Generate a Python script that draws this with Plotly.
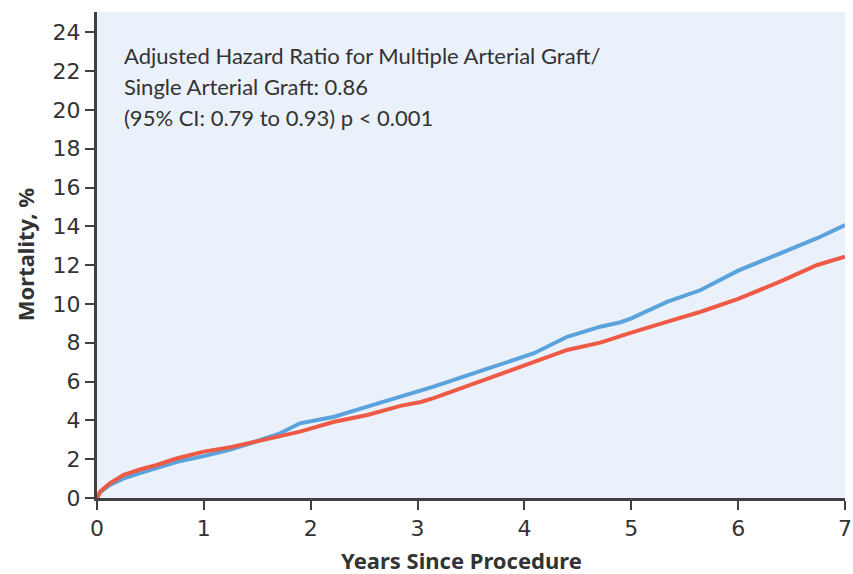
import plotly.graph_objects as go

# Cumulative mortality (%) by years since procedure
years_single = [0, 0.03, 0.12, 0.25, 0.41, 0.56, 0.75, 1.0, 1.25, 1.48, 1.7, 1.9,
                2.22, 2.53, 2.84, 3.03, 3.15, 3.62, 4.09, 4.40, 4.71, 4.90, 5.0,
                5.34, 5.65, 6.0, 6.43, 6.74, 7.0]
mort_single = [0, 0.30, 0.67, 1.01, 1.30, 1.53, 1.87, 2.16, 2.50, 2.90, 3.30, 3.85,
               4.19, 4.71, 5.20, 5.50, 5.74, 6.60, 7.46, 8.31, 8.83, 9.06, 9.26,
               10.12, 10.72, 11.72, 12.70, 13.39, 14.07]

years_multi = years_single
mort_multi = [0, 0.33, 0.76, 1.19, 1.48, 1.70, 2.05, 2.39, 2.62, 2.90, 3.15, 3.42,
              3.93, 4.28, 4.75, 4.95, 5.15, 6.08, 6.98, 7.63, 8.01, 8.37, 8.52,
              9.09, 9.60, 10.26, 11.24, 12.01, 12.44]

x_ticks = [0, 1, 2, 3, 4, 5, 6, 7]
y_ticks = list(range(0, 25, 2))

note_lines = ["Adjusted Hazard Ratio for Multiple Arterial Graft/",
              "Single Arterial Graft: 0.86",
              "(95% CI: 0.79 to 0.93) p < 0.001"]

BLUE = "#5AA3DC"
RED = "#EF5A47"
AXIS = "#404040"
TEXT = "#333333"
TICK_FONT = "DejaVu Sans"
TITLE_FONT = "Noto Sans"
NOTE_FONT = "Lato"

fig = go.Figure()
fig.add_trace(go.Scatter(x=years_single, y=mort_single, mode="lines",
                         line=dict(color=BLUE, width=4), name="Single Arterial Graft"))
fig.add_trace(go.Scatter(x=years_multi, y=mort_multi, mode="lines",
                         line=dict(color=RED, width=4), name="Multiple Arterial Graft"))

axis_common = dict(showline=True, linecolor=AXIS, linewidth=3, ticks="outside",
                   ticklen=9, tickwidth=2, tickcolor=AXIS, showgrid=False,
                   zeroline=False, automargin=False,
                   tickfont=dict(family=TICK_FONT, size=22, color=TEXT))

fig.update_xaxes(range=[0, 7], tickvals=x_ticks, **axis_common)
fig.update_yaxes(range=[0, 25.05], tickvals=y_ticks, **axis_common)

# Hazard-ratio note, one annotation per line for even spacing
for i, line in enumerate(note_lines):
    fig.add_annotation(xref="paper", yref="paper", x=0.0348, y=0.911 - i * 0.0638,
                       xanchor="left", yanchor="middle", align="left",
                       showarrow=False, borderpad=0, text=line,
                       font=dict(family=NOTE_FONT, size=22, color=TEXT))

fig.add_annotation(xref="paper", yref="paper", x=(461 - 97) / 748, y=-0.127,
                   xanchor="center", yanchor="middle", showarrow=False, borderpad=0,
                   text="<b>Years Since Procedure</b>",
                   font=dict(family=TITLE_FONT, size=22, color=TEXT))
fig.add_annotation(xref="paper", yref="paper", x=-0.096, y=0.5, textangle=-90,
                   xanchor="center", yanchor="middle", showarrow=False, borderpad=0,
                   text="<b>Mortality, %</b>",
                   font=dict(family=TITLE_FONT, size=22, color=TEXT))

fig.update_layout(width=853, height=574, showlegend=False,
                  margin=dict(l=97, r=8, t=12, b=76),
                  plot_bgcolor="#EAF1FA", paper_bgcolor="white")

fig.write_html("out.html")
